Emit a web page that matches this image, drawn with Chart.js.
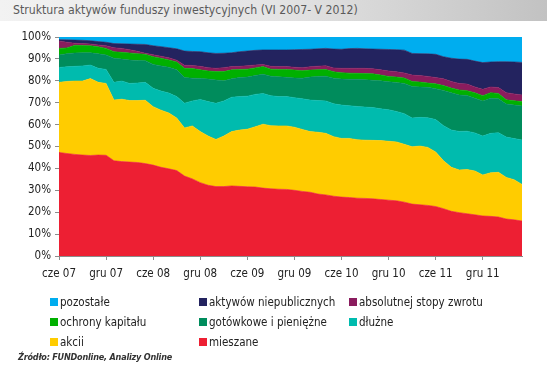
<!DOCTYPE html>
<html><head><meta charset="utf-8">
<script src="https://cdn.jsdelivr.net/npm/chart.js@4/dist/chart.umd.min.js"></script>
<style>
html,body{margin:0;padding:0;background:#fff;width:547px;height:371px;overflow:hidden;font-family:"DejaVu Sans Condensed","DejaVu Sans",sans-serif;}
#title{position:absolute;left:0;top:0;width:547px;height:21px;background:linear-gradient(to right,#f2f2f2 0%,#e4e4e4 50%,#c2c2c2 100%);}
#title span{position:absolute;left:13px;top:3px;font-size:12.2px;color:#5a5a5a;white-space:nowrap;}
#wrap{position:absolute;left:0;top:22px;width:547px;height:262px;}
#legend{position:absolute;left:0;top:0;width:547px;height:371px;pointer-events:none;}
.li{position:absolute;font-size:11.5px;color:#222;white-space:nowrap;line-height:14px;}
.li i{position:absolute;left:-10px;top:3px;width:8px;height:8px;}
#src{position:absolute;left:18px;top:352px;font-size:9px;font-style:italic;font-weight:bold;color:#333;white-space:nowrap;letter-spacing:-0.2px;}
</style></head>
<body>
<div id="title"><span>Struktura aktywów funduszy inwestycyjnych (VI 2007- V 2012)</span></div>
<div id="wrap"><canvas id="c" width="547" height="262"></canvas></div>
<div id="legend"></div>
<div id="src">Źródło: FUNDonline, Analizy Online</div>
<script>
const categories = [
"cze 07","lip 07","sie 07","wrz 07","paź 07","lis 07","gru 07","sty 08","lut 08","mar 08","kwi 08","maj 08",
"cze 08","lip 08","sie 08","wrz 08","paź 08","lis 08","gru 08","sty 09","lut 09","mar 09","kwi 09","maj 09",
"cze 09","lip 09","sie 09","wrz 09","paź 09","lis 09","gru 09","sty 10","lut 10","mar 10","kwi 10","maj 10",
"cze 10","lip 10","sie 10","wrz 10","paź 10","lis 10","gru 10","sty 11","lut 11","mar 11","kwi 11","maj 11",
"cze 11","lip 11","sie 11","wrz 11","paź 11","lis 11","gru 11","sty 12","lut 12","mar 12","kwi 12","maj 12"];
const xTickLabels = ["cze 07","gru 07","cze 08","gru 08","cze 09","gru 09","cze 10","gru 10","cze 11","gru 11"];
const yTickLabels = ["0%","10%","20%","30%","40%","50%","60%","70%","80%","90%","100%"];

const mieszane = [47.3,46.8,46.4,46.1,45.9,46.1,46.0,43.5,43.1,42.9,42.7,42.2,41.5,40.5,39.8,39.0,36.5,35.2,33.5,32.3,31.7,31.7,32.0,31.8,31.6,31.5,31.0,30.7,30.5,30.4,30.0,29.5,29.1,28.3,27.9,27.3,26.9,26.7,26.4,26.3,26.1,25.8,25.5,25.2,24.6,23.7,23.4,23.1,22.6,21.6,20.4,19.8,19.3,18.8,18.3,18.1,17.8,16.9,16.5,16.0];
const akcji = [32.0,32.9,33.5,33.8,35.1,33.2,32.8,27.7,28.5,28.1,28.3,28.9,26.7,26.1,25.5,24.0,22.0,24.2,23.3,22.5,21.5,23.1,24.8,25.7,26.3,27.5,29.2,28.8,28.9,29.0,28.8,28.3,27.7,28.2,28.1,27.2,26.8,27.0,26.7,26.6,26.7,26.9,26.9,26.9,26.4,26.2,26.8,26.5,24.9,21.9,20.1,19.5,20.2,20.0,18.7,19.9,20.4,19.0,18.3,16.7];
const dluzne = [6.8,6.7,6.7,6.9,6.2,6.4,6.4,8.1,8.3,7.8,8.0,8.2,8.4,8.7,9.1,9.8,11.3,11.4,14.7,15.7,16.5,16.0,15.7,15.3,15.1,14.8,14.0,13.7,13.4,13.4,13.5,14.0,14.4,14.5,14.8,15.0,15.2,14.9,15.2,15.1,15.0,14.5,14.4,13.9,14.0,13.1,13.1,13.5,14.8,16.0,17.0,17.6,17.5,17.4,17.8,18.0,18.1,18.4,18.8,20.3];
const gotowkowe = [5.7,6.0,6.1,6.0,5.6,6.6,6.6,11.0,10.0,10.7,10.3,9.9,10.9,11.5,11.8,12.2,11.7,10.4,9.6,10.3,10.7,9.2,8.4,8.7,8.7,8.6,8.8,8.9,9.0,8.8,9.0,9.4,10.5,11.0,11.3,11.7,11.9,12.1,12.4,12.5,12.5,12.8,12.8,13.2,13.8,14.4,13.9,13.9,14.1,16.1,17.0,16.6,16.3,15.8,16.0,16.0,15.5,15.1,15.3,15.5];
const ochrony = [3.0,2.6,3.5,3.3,3.2,3.2,3.0,3.0,3.1,3.2,3.1,2.9,3.5,3.5,3.3,3.6,4.2,4.4,3.9,3.7,3.8,4.2,4.1,3.7,3.6,3.5,3.5,3.2,3.4,3.6,3.6,3.4,3.2,3.1,3.1,2.9,2.9,2.8,2.7,2.8,2.9,2.6,2.4,2.5,2.5,2.3,2.2,2.0,2.2,2.2,2.2,2.3,2.2,2.5,2.4,2.6,2.4,1.9,2.0,2.0];
const absolutnej = [3.4,2.6,1.0,0.9,0.8,0.9,1.2,1.8,1.8,1.5,1.1,0.5,0.9,0.9,1.0,0.8,1.4,1.4,1.6,1.5,1.5,1.8,1.5,1.4,1.6,1.3,1.0,1.3,1.3,1.3,1.3,1.4,1.5,1.6,1.7,1.8,2.0,2.2,2.3,2.4,2.3,2.4,2.5,2.4,2.3,2.9,3.0,3.0,2.9,3.1,3.0,3.0,3.0,2.7,2.9,2.6,2.7,3.3,3.1,3.0];
const niepubliczne = [0.6,1.1,1.4,1.5,1.5,1.5,1.6,1.9,2.1,2.6,3.2,4.0,4.1,4.4,4.6,5.2,6.5,6.4,6.7,6.8,6.8,6.6,6.3,6.7,6.7,6.7,6.6,7.5,7.6,7.6,8.0,8.3,8.0,7.9,7.9,8.6,8.7,9.0,9.1,8.9,9.0,9.4,9.8,10.1,10.4,9.9,10.0,10.3,10.6,10.1,10.6,11.1,11.3,11.8,12.2,11.4,11.8,14.1,14.6,14.9];
const pozostale = [1.2,1.3,1.4,1.5,1.7,2.1,2.4,3.0,3.1,3.2,3.3,3.4,4.0,4.4,4.9,5.4,6.4,6.6,6.7,7.2,7.5,7.4,7.2,6.7,6.4,6.1,5.9,5.9,5.9,5.9,5.8,5.7,5.6,5.4,5.2,5.5,5.6,5.3,5.2,5.4,5.5,5.6,5.7,5.8,6.0,7.5,7.6,7.7,7.9,9.0,9.7,10.1,10.2,11.0,11.7,11.4,11.3,11.3,11.4,11.6];

const seriesNames = ["mieszane","akcii","dłużne","gotówkowe i pieniężne","ochrony kapitału","absolutnej stopy zwrotu","aktywów niepublicznych","pozostałe"];
const seriesData = [mieszane,akcji,dluzne,gotowkowe,ochrony,absolutnej,niepubliczne,pozostale];
const seriesColors = ["#ED1F33","#FFCC00","#00BBAE","#008C5C","#00B000","#8A1C5E","#23235F","#00ADEF"];

const datasets = seriesData.map((d,i)=>({
  label: seriesNames[i], data: d,
  backgroundColor: seriesColors[i], borderColor: seriesColors[i],
  borderWidth: 0.6, pointRadius: 0, tension: 0,
  fill: i===0 ? 'origin' : '-1'
}));

new Chart(document.getElementById('c'), {
  type: 'line',
  data: { labels: categories, datasets },
  options: {
    responsive: false, animation: false,
    layout: { padding: { left: 0, right: 25, top: 15, bottom: 0 } },
    plugins: { legend: { display: false }, tooltip: { enabled: false } },
    scales: {
      x: {
        offset: false,
        grid: { drawOnChartArea: false, drawTicks: true, tickLength: 4,
          color: ctx => (ctx.index % 6 === 0 ? '#8c8c8c' : 'rgba(0,0,0,0)') },
        border: { color: '#8c8c8c', width: 1 },
        ticks: { autoSkip: false, maxRotation: 0, padding: 7, color: '#222',
          font: { family: '"DejaVu Sans Condensed","DejaVu Sans",sans-serif', size: 11.5 },
          callback: (v, i) => (i % 6 === 0 ? xTickLabels[i/6] : '') },
        afterFit: s => { s.height = 28; }
      },
      y: {
        stacked: true, min: 0, max: 100,
        grid: { drawOnChartArea: false, drawTicks: true, tickLength: 4, color: '#8c8c8c' },
        border: { color: '#8c8c8c', width: 1 },
        ticks: { stepSize: 10, padding: 4, color: '#222',
          font: { family: '"DejaVu Sans Condensed","DejaVu Sans",sans-serif', size: 11.5 },
          callback: v => yTickLabels[Math.round(v/10)] },
        afterFit: s => { s.width = 59; }
      }
    }
  }
});

// HTML legend in the reference's three-column order
const legendOrder = [7,6,5,4,3,2,1,0];
const colX = [60,209,359], rowY = [295,315,335];
const lg = document.getElementById('legend');
legendOrder.forEach((si,k)=>{
  const el = document.createElement('div');
  el.className = 'li';
  el.style.left = colX[k%3] + 'px';
  el.style.top = rowY[Math.floor(k/3)] + 'px';
  el.innerHTML = '<i style="background:'+seriesColors[si]+'"></i>' + seriesNames[si];
  lg.appendChild(el);
});
</script>
</body></html>
